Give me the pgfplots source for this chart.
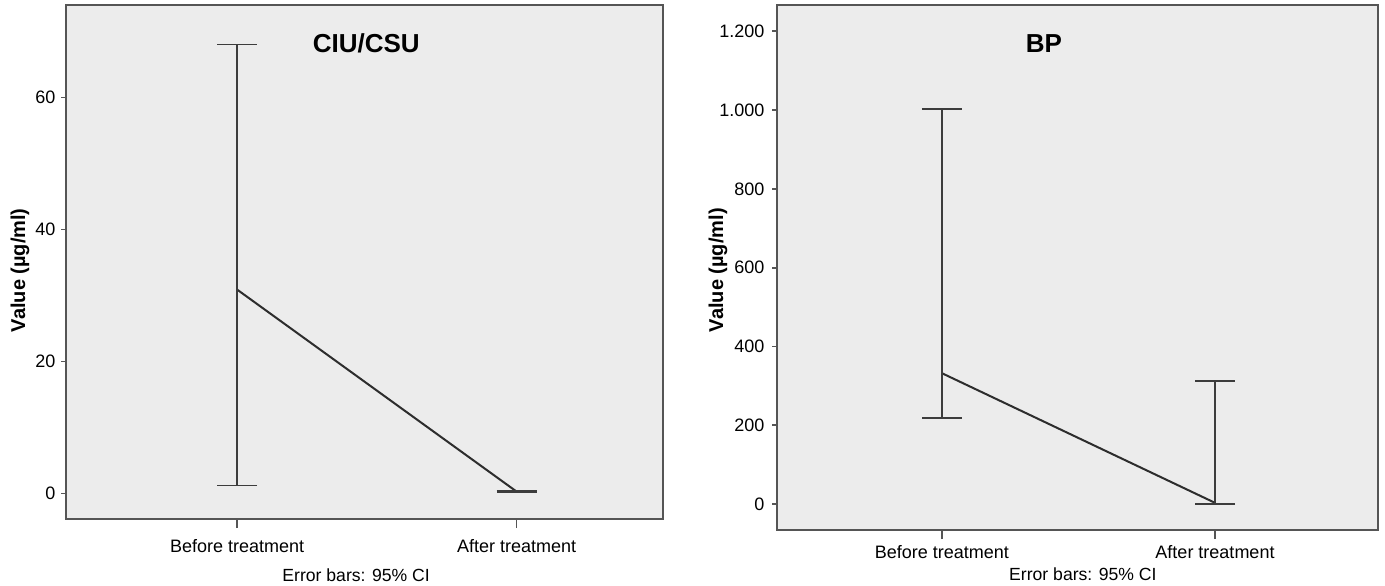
\documentclass[border=0pt]{standalone}
\usepackage{fontspec}
\setmainfont{Liberation Sans}
\usepackage{pgfplots}
\usepackage{pgfplotstable}
\pgfplotsset{compat=1.18}

\definecolor{panelbg}{RGB}{236,236,236}
\definecolor{framegray}{RGB}{85,85,85}
\definecolor{linegray}{RGB}{45,45,45}
\definecolor{bargray}{RGB}{60,60,60}

% mean and 95% CI per group
\pgfplotstableread{
x mean lo hi
0 30.9 1.2 68.0
1 0.3 0.2 0.4
}\ciudata
\pgfplotstableread{
x mean lo hi
0 332 218 1002
1 3 0 312
}\bpdata

\pgfplotsset{
  every axis title shift=0pt,
  spssbox/.style={
    scale only axis,
    anchor=north west,
    clip=false,
    axis background/.style={fill=panelbg},
    axis line style={framegray, line width=1pt},
    tick align=outside,
    xtick pos=lower,
    ytick pos=left,
    xtick={0,1},
    xticklabels={Before treatment, After treatment},
    xtick style={framegray, line width=0.9pt, /pgfplots/major tick length=4.5pt},
    ytick style={framegray, line width=0.9pt, /pgfplots/major tick length=2.5pt},
    tick label style={font=\fontsize{9}{10}\selectfont},
    /pgf/number format/assume math mode=true,
    xticklabel style={anchor=base},
    yticklabel style={anchor=east},
    ylabel={Value (µg/ml)},
    ylabel style={font=\bfseries\fontsize{10}{12}\selectfont, anchor=center},
    xlabel={Error bars: 95\% CI},
    xlabel style={font=\fontsize{8.8}{10}\selectfont, anchor=base},
    title style={font=\bfseries\fontsize{13}{16}\selectfont, anchor=base},
  },
  meanline/.style={
    linegray, line width=1pt, mark=none,
    error bars/.cd, y dir=both, y explicit,
    error bar style={bargray, line width=0.75pt},
    error mark options={rotate=90, mark size=10pt, line width=0.8pt, bargray},
  },
}

\begin{document}
\begin{tikzpicture}
\begin{axis}[
  spssbox,
  at={(33pt,-2.5pt)},
  width=298.5pt, height=257pt,
  xmin=-0.612, xmax=1.524,
  ymin=-3.86, ymax=74.0,
  ytick={0,20,40,60},
  xticklabel style={yshift=-12.5pt},
  yticklabel style={xshift=2.5pt},
  ylabel style={at={(axis description cs:-0.077,0.484)}},
  xlabel style={at={(axis description cs:0.486,0)}, yshift=-31.25pt},
  title={CIU/CSU},
  title style={at={(axis description cs:0.503,0.907)}},
]
\addplot[meanline] table[x=x, y=mean,
  y error plus expr=\thisrow{hi}-\thisrow{mean},
  y error minus expr=\thisrow{mean}-\thisrow{lo}] {\ciudata};
\end{axis}

\begin{axis}[
  spssbox,
  at={(388.5pt,-2.5pt)},
  width=300.5pt, height=262.5pt,
  xmin=-0.604, xmax=1.597,
  ymin=-66, ymax=1266.5,
  ytick={0,200,400,600,800,1000,1200},
  /pgf/number format/1000 sep={.},
  xticklabel style={yshift=-10pt},
  yticklabel style={xshift=1.5pt},
  ylabel style={at={(axis description cs:-0.098,0.495)}},
  xlabel style={at={(axis description cs:0.509,0)}, yshift=-25pt},
  title={BP},
  title style={at={(axis description cs:0.444,0.909)}},
]
\addplot[meanline] table[x=x, y=mean,
  y error plus expr=\thisrow{hi}-\thisrow{mean},
  y error minus expr=\thisrow{mean}-\thisrow{lo}] {\bpdata};
\end{axis}

\pgfresetboundingbox
\useasboundingbox (0,0) rectangle (692.5pt,-292.5pt);
\end{tikzpicture}
\end{document}
